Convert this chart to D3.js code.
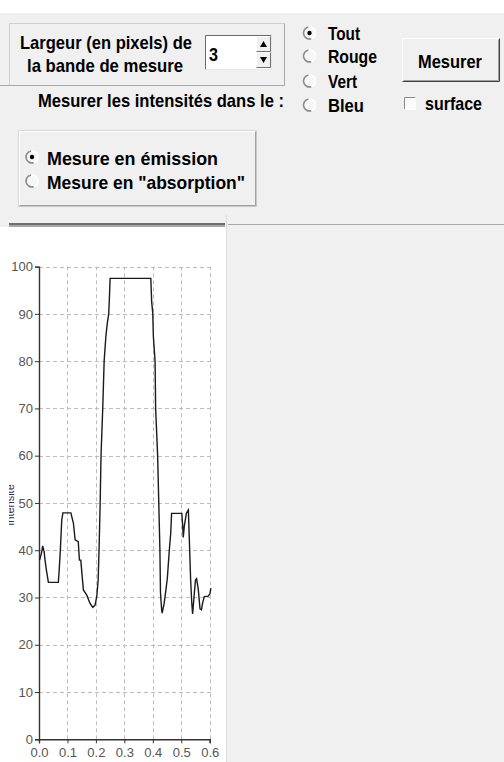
<!DOCTYPE html>
<html>
<head>
<meta charset="utf-8">
<script src="https://cdn.jsdelivr.net/npm/d3@7"></script>
<style>
  html, body { margin: 0; padding: 0; background: #f0f0f0; }
  svg { display: block; }
  .ui { font-family: "Liberation Sans Narrow", "Arial Narrow", "Liberation Sans", sans-serif; font-weight: bold; fill: #000; }
  .tick text { font-family: "Liberation Sans", Arial, sans-serif; font-size: 13px; fill: #555; }
</style>
</head>
<body>
<div id="chart"></div>
<script>
// Profile data: position along the measure band and intensity
var positions = [0.002, 0.009, 0.013, 0.018, 0.021, 0.026, 0.033, 0.068, 0.071, 0.075,
    0.080, 0.084, 0.112, 0.121, 0.127, 0.138, 0.142, 0.147, 0.151, 0.156,
    0.168, 0.179, 0.189, 0.197, 0.203, 0.208, 0.211, 0.215, 0.218, 0.224,
    0.229, 0.235, 0.240, 0.245, 0.247, 0.250, 0.393, 0.396, 0.400, 0.402,
    0.408, 0.410, 0.417, 0.421, 0.425, 0.427, 0.431, 0.433, 0.440, 0.446,
    0.451, 0.458, 0.463, 0.466, 0.502, 0.505, 0.507, 0.511, 0.518, 0.525,
    0.528, 0.533, 0.537, 0.540, 0.545, 0.550, 0.554, 0.560, 0.566, 0.571,
    0.575, 0.581, 0.595, 0.601, 0.604];
var intensities = [37.9, 39.5, 40.9, 39.7, 38.0, 35.8, 33.2, 33.2, 35.8, 40.0,
    46.4, 47.9, 47.9, 45.7, 42.2, 41.8, 37.9, 37.9, 35.0, 31.6,
    30.5, 28.8, 27.9, 28.4, 30.2, 33.7, 40.0, 50.0, 60.0, 70.0,
    80.0, 85.2, 88.0, 90.0, 92.6, 97.5, 97.5, 92.6, 90.0, 85.2,
    80.0, 70.0, 60.0, 50.0, 40.0, 31.0, 27.5, 26.7, 28.8, 31.6,
    34.0, 40.0, 43.6, 47.8, 47.8, 45.3, 42.7, 45.2, 47.8, 48.5,
    43.0, 33.7, 28.8, 26.5, 30.2, 33.7, 34.0, 31.6, 27.6, 27.4,
    28.8, 30.2, 30.3, 30.8, 32.0];

var xTicks = [0, 0.1, 0.2, 0.3, 0.4, 0.5, 0.6];
var yTicks = [0, 10, 20, 30, 40, 50, 60, 70, 80, 90, 100];

var colourChoices = ["Tout", "Rouge", "Vert", "Bleu"];
var modeChoices = ["Mesure en émission", "Mesure en \"absorption\""];

var W = 504, H = 762;

var svg = d3.select("#chart").append("svg")
    .attr("width", W)
    .attr("height", H);

//Backgrounds
svg.append("rect").attr("width", W).attr("height", H).attr("fill", "#f0f0f0");
svg.append("rect").attr("width", W).attr("height", 13).attr("fill", "#ffffff");

//Helper for a text fitted to a measured width
function label(txt, x, y, len, size) {
    return svg.append("text")
        .attr("class", "ui")
        .attr("x", x)
        .attr("y", y)
        .attr("textLength", len)
        .attr("lengthAdjust", "spacingAndGlyphs")
        .style("font-size", (size || 19) + "px")
        .text(txt);
}

//Win-style bevelled box: light top/left, dark bottom/right
function bevel(x0, y0, x1, y1, light, dark) {
    svg.append("path").attr("d", "M" + x0 + "," + y1 + "V" + y0 + "H" + x1)
        .attr("fill", "none").attr("stroke", light);
    svg.append("path").attr("d", "M" + x1 + "," + y0 + "V" + y1 + "H" + x0)
        .attr("fill", "none").attr("stroke", dark);
}

//Width group box
bevel(9.5, 23.5, 284.5, 85.5, "#cfcfcf", "#a8a8a8");
svg.append("line").attr("x1", 0).attr("x2", 284).attr("y1", 85.5).attr("y2", 85.5).attr("stroke", "#a8a8a8");
label("Largeur (en pixels) de", 20, 49, 172);
label("la bande de mesure", 27, 72, 156);

//Spin box
svg.append("rect").attr("x", 205).attr("y", 35).attr("width", 67).attr("height", 34).attr("fill", "#fff");
bevel(205.5, 35.5, 271.5, 69.5, "#6a6a6a", "#e8e8e8");
label("3", 209, 61, 9, 19);
[[36, 52], [52, 68]].forEach(function(b, i) {
    svg.append("rect").attr("x", 256).attr("y", b[0]).attr("width", 15).attr("height", b[1] - b[0]).attr("fill", "#f0f0f0");
    bevel(256.5, b[0] + 0.5, 270.5, b[1] - 0.5, "#ffffff", "#707070");
    var cy = (b[0] + b[1]) / 2;
    var pts = i === 0 ? [[260, cy + 3], [267, cy + 3], [263.5, cy - 3]] : [[260, cy - 3], [267, cy - 3], [263.5, cy + 3]];
    svg.append("polygon").attr("points", pts.map(function(p) { return p.join(","); }).join(" ")).attr("fill", "#000");
});

label("Mesurer les intensités dans le :", 38, 107, 246);

//Radio button drawing (3D style: dark left arc, like a "C")
function radio(cx, cy, checked) {
    var arc = d3.arc().innerRadius(5).outerRadius(6.8);
    svg.append("path").attr("transform", "translate(" + cx + "," + cy + ")")
        .attr("d", arc({startAngle: -Math.PI * 1.1, endAngle: -Math.PI * 0.05}))
        .attr("fill", "#8c8c8c");
    svg.append("path").attr("transform", "translate(" + cx + "," + cy + ")")
        .attr("d", arc({startAngle: -Math.PI * 0.05, endAngle: Math.PI * 0.9}))
        .attr("fill", "#ffffff");
    svg.append("circle").attr("cx", cx).attr("cy", cy).attr("r", 5).attr("fill", "#f7f7f7");
    if (checked) {
        svg.append("circle").attr("cx", cx).attr("cy", cy).attr("r", 2.2).attr("fill", "#000");
    }
}

var colourBase = [40, 63, 88, 112],
    colourLen = [32, 49, 29, 36];
colourChoices.forEach(function(c, i) {
    radio(309.5, colourBase[i] - 7, i === 0);
    label(c, 328, colourBase[i], colourLen[i]);
});

//Mesurer button
svg.append("rect").attr("x", 402).attr("y", 38).attr("width", 98).attr("height", 44).attr("fill", "#f0f0f0");
bevel(402.5, 38.5, 499.5, 81.5, "#ffffff", "#404040");
bevel(403.5, 39.5, 498.5, 80.5, "#f0f0f0", "#a0a0a0");
label("Mesurer", 418, 68, 64);

//surface check box
svg.append("rect").attr("x", 404).attr("y", 97).attr("width", 12).attr("height", 13).attr("fill", "#fbfbfb");
bevel(404.5, 97.5, 415.5, 109.5, "#8a8a8a", "#ffffff");
label("surface", 425, 110, 57);

//Emission / absorption group
bevel(19.5, 131.5, 255.5, 205.5, "#ffffff", "#a0a0a0");
bevel(18.5, 130.5, 256.5, 206.5, "#d8d8d8", "#c8c8c8");
var modeBase = [165, 189], modeLen = [171, 198];
modeChoices.forEach(function(m, i) {
    radio(32, modeBase[i] - 8, i === 0);
    label(m, 47, modeBase[i], modeLen[i]);
});

//Separator and chart panel
svg.append("rect").attr("x", 0).attr("y", 227).attr("width", 226).attr("height", H - 227).attr("fill", "#ffffff");
svg.append("rect").attr("x", 9).attr("y", 223).attr("width", 216).attr("height", 2).attr("fill", "#6e6e6e");
svg.append("rect").attr("x", 9).attr("y", 225).attr("width", 216).attr("height", 2).attr("fill", "#a8a8a8");
svg.append("line").attr("x1", 228).attr("x2", W).attr("y1", 224.5).attr("y2", 224.5).attr("stroke", "#a8a8a8");
svg.append("line").attr("x1", 226.5).attr("x2", 226.5).attr("y1", 215).attr("y2", H).attr("stroke", "#dcdcdc");

//Chart scales
var x = d3.scaleLinear().domain([0, 0.6]).range([39, 209.7]);
var y = d3.scaleLinear().domain([0, 100]).range([739.3, 266.6]);

var plot = svg.append("g");

//Grid
plot.selectAll(".hgrid").data(yTicks.slice(1))
    .enter().append("line")
    .attr("x1", x(0)).attr("x2", x(0.606))
    .attr("y1", function(d) { return Math.round(y(d)) + 0.5; })
    .attr("y2", function(d) { return Math.round(y(d)) + 0.5; })
    .attr("stroke", "#bdbdbd").attr("stroke-dasharray", "4,3");
plot.selectAll(".vgrid").data(xTicks.slice(1))
    .enter().append("line")
    .attr("x1", function(d) { return Math.round(x(d)) + 0.5; })
    .attr("x2", function(d) { return Math.round(x(d)) + 0.5; })
    .attr("y1", y(0)).attr("y2", y(100))
    .attr("stroke", "#bdbdbd").attr("stroke-dasharray", "4,3");

//Axes
var yAxis = plot.append("g")
    .attr("transform", "translate(" + x(0) + ",0)")
    .call(d3.axisLeft(y).tickValues(yTicks).tickSize(4).tickPadding(2).tickFormat(d3.format("d")));
var xAxis = plot.append("g")
    .attr("transform", "translate(0," + y(0) + ")")
    .call(d3.axisBottom(x).tickValues(xTicks).tickSize(4).tickPadding(4).tickFormat(d3.format(".1f")));
[yAxis, xAxis].forEach(function(a) {
    a.select(".domain").attr("stroke", "#333").attr("stroke-width", 1.4);
    a.selectAll(".tick line").attr("stroke", "#333");
});

//Axis title, cut by the panel edge
var titleClip = svg.append("clipPath").attr("id", "titleclip");
titleClip.append("rect").attr("x", 9).attr("y", 227).attr("width", 30).attr("height", 500);
svg.append("g")
    .attr("clip-path", "url(#titleclip)")
    .append("text")
    .attr("transform", "translate(13.5,505) rotate(-90)")
    .attr("text-anchor", "middle")
    .style("font-family", "Liberation Sans, Arial, sans-serif")
    .style("font-size", "11px")
    .attr("fill", "#334")
    .text("Intensité");

//Profile line
var line = d3.line()
    .x(function(d) { return x(d[0]); })
    .y(function(d) { return y(d[1]); });

plot.append("path")
    .datum(positions.map(function(p, i) { return [p, intensities[i]]; }))
    .attr("d", line)
    .attr("fill", "none")
    .attr("stroke", "#1a1a1a")
    .attr("stroke-width", 1.4);
</script>
</body>
</html>
